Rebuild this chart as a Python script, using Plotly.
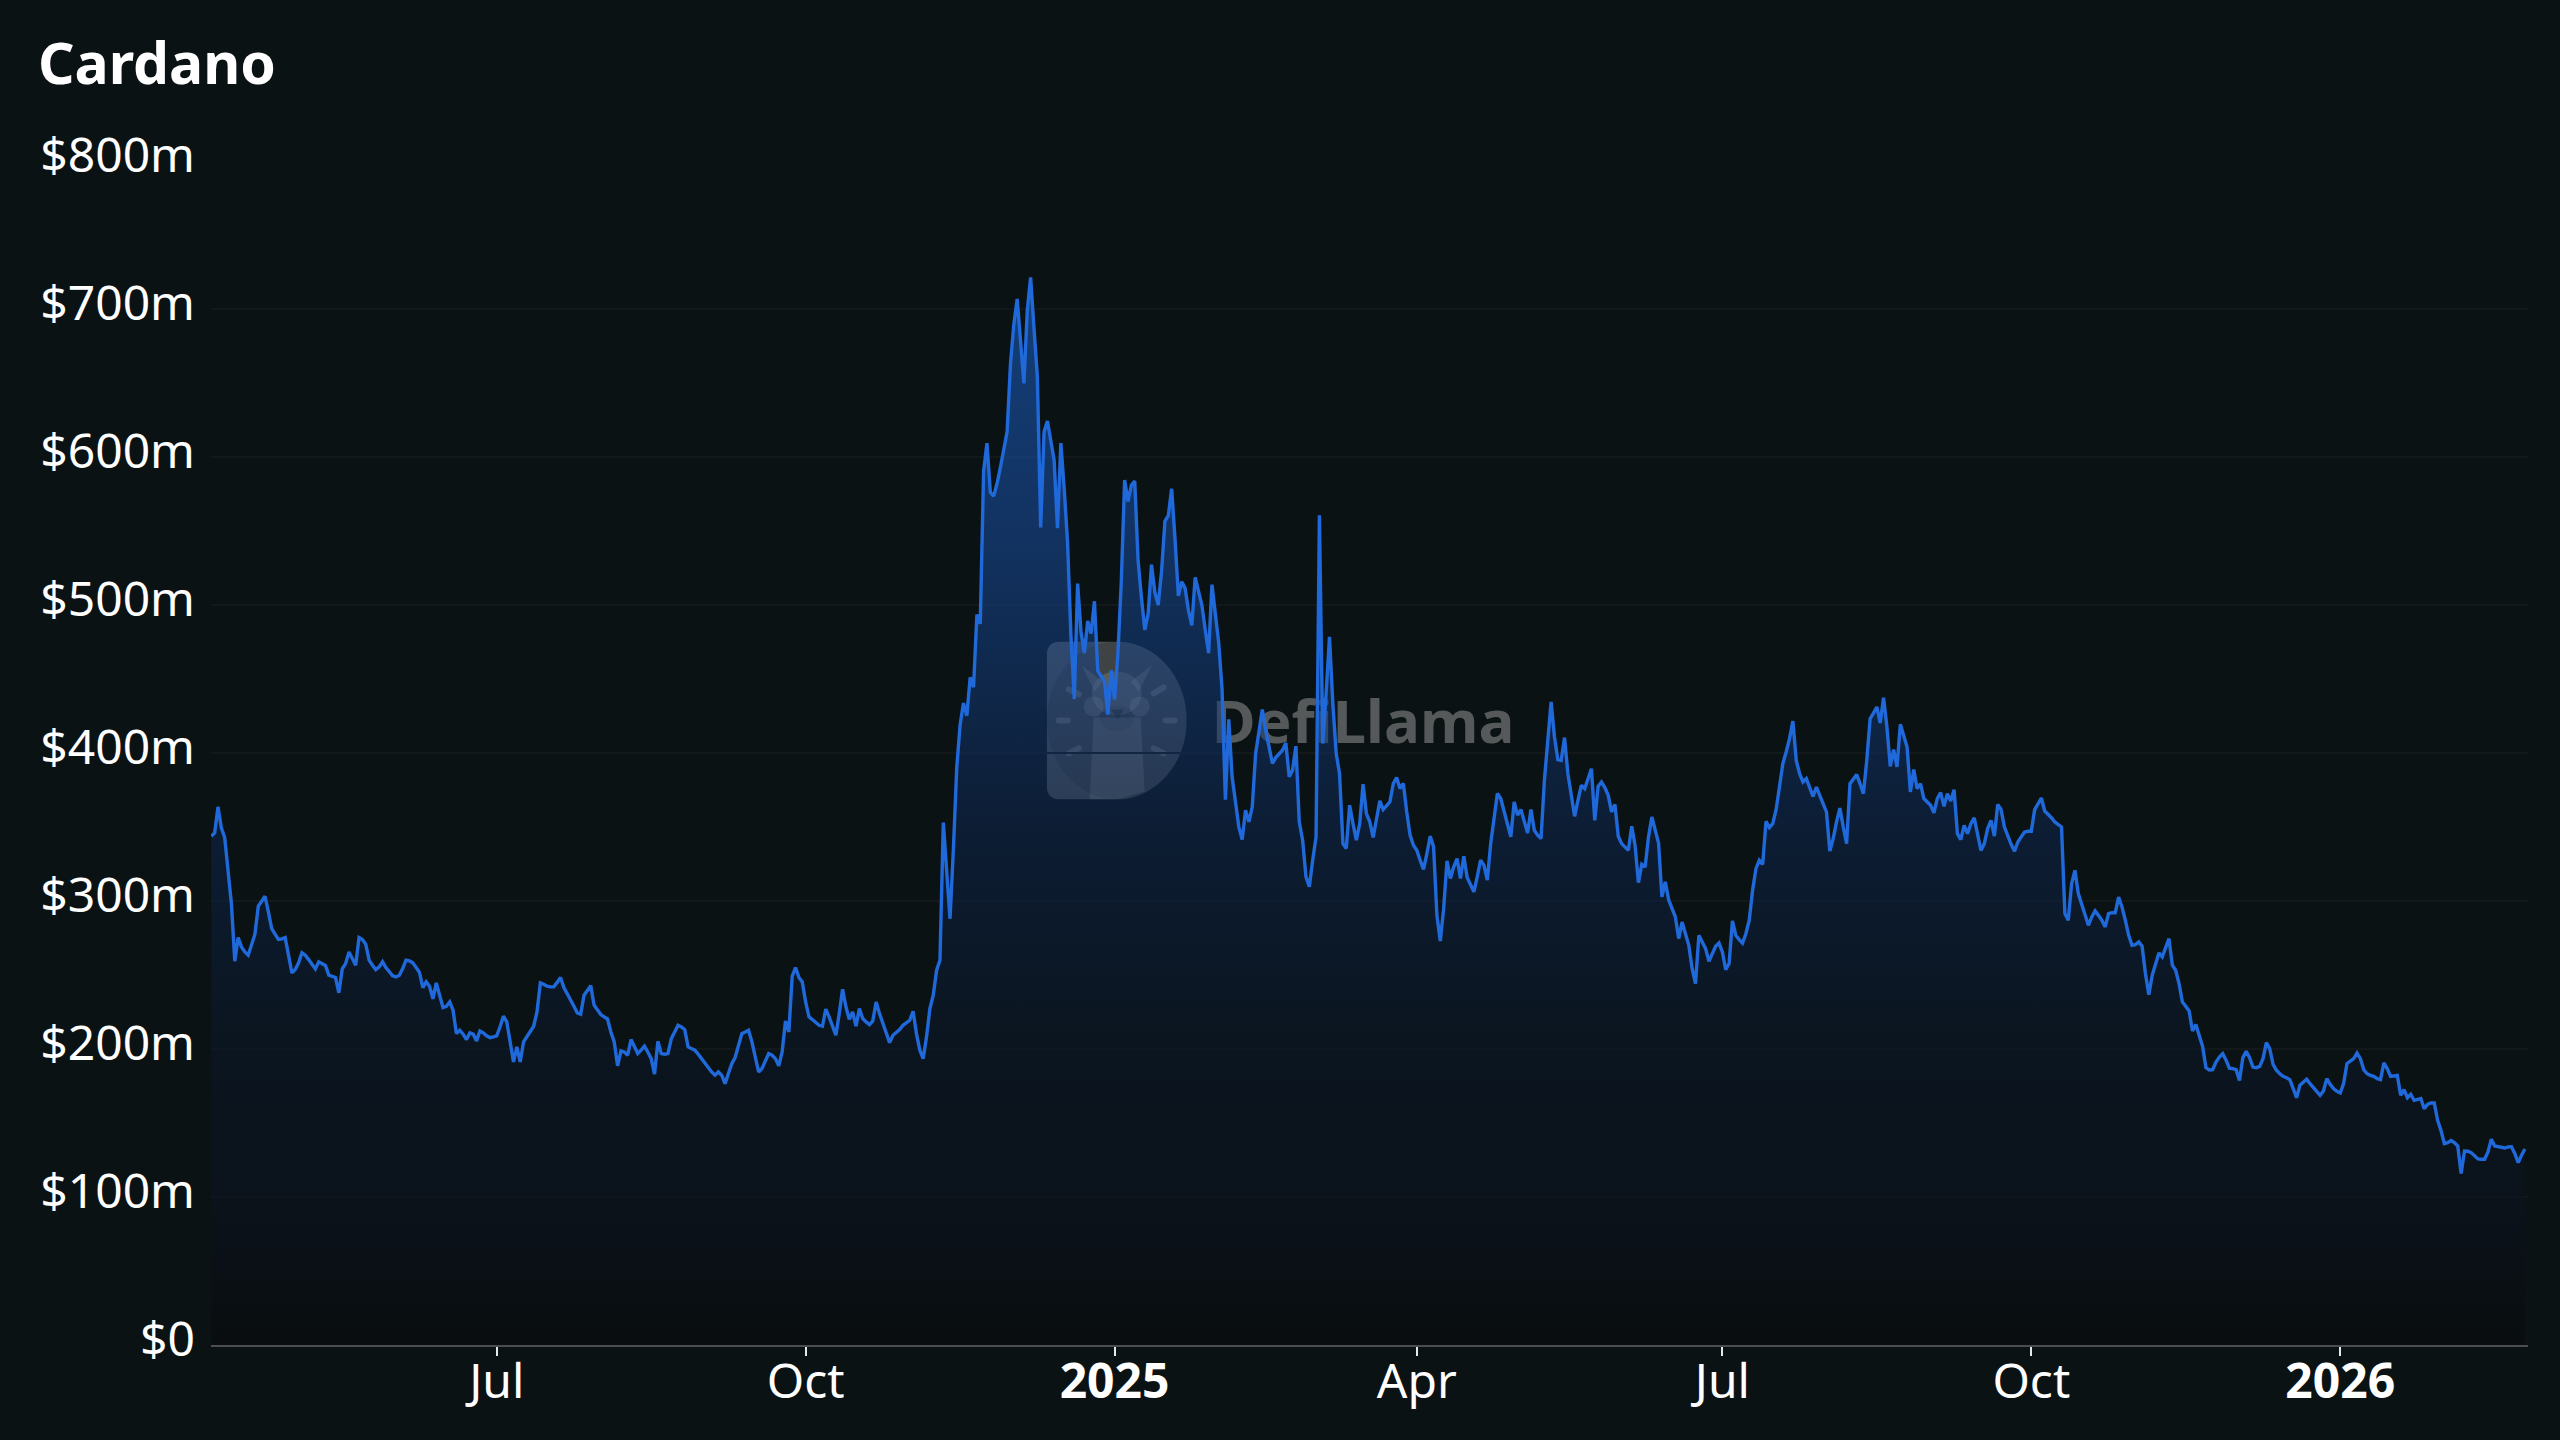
import base64
import pandas as pd
import plotly.graph_objects as go

TITLE = "Cardano"
START_DATE = "2024-04-07"

tvl_2024_spring = [343.8,346,363.6,349.4,342.9,320.8,298,259.3,275.3,269,265.6,263.4,270,277.6,296.5,300,303.2,292.6,281.4,277.6,274,274.4,275.3,263.4,251.4,253.7,258.2,265,263.4,260.4,257.3,254.1,258.9,257.7,256.4,249.9,249.2,248.3,238,254.1,257.7,265.6,261.1,256.6,275.3,274,270.8,260,256.6,253.7,255.5,258.9,255,252.1,249.4,248.7,249.9,254.4,260,259.5,258.2,255,251.7,241.5,245.4,242.4,233.9,244.7,236.4,228,228.9,231.8,226.2,210.4,212.7,210,206.4,210.9,210,205.5,212.2,210.9,208.9,207.7,208.2,208.9,215,222.2,218.3,204.8,191.3,201.4,191.3,204.8,208.6,212.2,215.4,225.1,244.7,243.8,242.4,242,242,245,248.3]
tvl_2024_summer = [241.5,237.4,234,228.9,224.4,223.5,236.3,239.7,242.8,229.6,226.2,223.3,221.7,220.3,211.5,204.8,188.6,198.7,198,195.8,206.4,201.9,196.9,199.2,201.9,198,193.5,183,205.2,196.9,196.5,196.9,207,211.5,216,214.9,213.1,201.4,200.3,199.2,196.5,193.5,190.1,186.8,184.5,182.3,184.5,182.3,176.6,183.4,190.1,194.2,201.4,210.4,211.5,212.7,204.8,194.7,184.5,186.8,191.3,196.9,195.8,193.5,188.6,198,219,211.5,249.2,255,248.3,245.3,231.8,221.7,219.9,217.6,216,215.4,226.9,221.7,215.4,209.3,223.9,240.4,228.4,220.1,225,215.4,227.3,220.6,218.3,216.5,219,231.8,223.9,217.2,212.2,204.3,209.3,210.9,213.1,216,217.6,219.4,225.5,210.4,199.2,193.5,208.2,227.3,236.3,253.2,260,353,320,288,335,390.2]
tvl_2024_peak = [419.2,433.7,425.2,451.1,444.5,493.5,487.3,590.5,609.4,576.1,573.6,582.1,593,605.5,617.1,662.9,689.5,706.8,677.4,649.7,699.1,721.3,687,654.5,552.4,617.1,624.3,609.8,597.8,551.9,609.4,578.5,542.3,479.5,436.6,514.5,482,467.5,489.2,480.7,502.5,455.4,451.8,448.2,426,455.9,436.1,467.5,515.7,584.5,570,580.9,583.8,530.2,504.9,483.2,494,527.3,508.5,500,523,556.7,560.4,578.5,544.7,506.1,515.7,511.4,496.4,486.3,518.6,509.7,500,483.2,467.5,513.8,495.2,474.7,443.3,368.5,422.8]
tvl_2025_spring = [383.9,367,350.1,341.5,361.4,353.5,363.6,399.6,413.1,429.4,415.4,404.2,392.9,396.9,399.6,401.9,406.8,383.9,388.4,404.6,353.5,341.1,316.3,309.6,327.6,343.3,560.7,406.4,440.2,478.5,433.4,399.6,386.1,338.8,335.5,364.7,352.3,341.1,352.3,378.9,359.1,353.5,342.9,356.9,367.7,361.8,364.1,367,379.4,383.4,376,379.4,360.2,344.5,337.7,334.3,327.6,321.3,332,343.8,336.6,290,273,295,327.1,315.2,323.1,328.7,315.2,330.3,315.9,310.7,306.2,316.3,327.6,324.2,314.1,338.8,354.6,372.6,369.2,360.2,351.2,343.3,367,358,361.8,354.6,346,361.8,347.8,344.5,342.2,381.6,408.6,434.5]
tvl_2025_summer = [410.8,395.5,395,410.4,386,371.4,357.2,368,378.2,375.9,382.7,389.4,354.5,377.5,380.4,376.6,371.4,360.2,365.3,343.7,338.8,336.1,334.2,350.5,337.6,312.4,324.8,323,343.3,356.8,348.9,339.2,302.7,312.9,300.9,294.8,289.2,274.6,285.8,277.9,270.1,254.3,244.2,276.8,272.3,267.8,259.3,264.4,269.4,271.6,265.6,253.6,257.7,286.5,276.8,273.9,271.6,277.9,287,307.2,321.9,327.5,324.8,353.8,349.6,352.3,361.7,377,392.8,400.7,409.7,421.6,395,386,380.4,382.7,377,370.7,377,371.4,366.9,360.2,333.8,342.1,353.4,362.8,350,338.8,379.3,382.7,385.4,379.3,372.5,395,423.2,427,431.1,420.3,437.4,417.6,391]
tvl_2025_autumn = [402.3,390.6,419.4,411.9,404,373.7,388.8,375.9,379.3,369.2,366.9,364.7,359.5,369.2,373.2,364,372.5,367.6,375.2,345.5,341.5,351.1,345.5,352.3,356.1,345.5,334.2,338.8,348.9,354.5,343.9,365.3,361.7,350,343.3,338.3,333.6,339.9,343.3,346.6,347.1,347.1,361.7,366.2,369.6,360.8,358.6,356.3,353.4,351.8,350,291.5,287,311.7,320.7,305,298.2,291.5,283.6,289.2,293.3,290.3,287,282.5,291.5,292.1,292.1,302.7,296,287,276.8,270.1,270.5,272.3,269.4,250.9,236.7,249.8,257.7,264.9,262.2,267.8,274.6,256.6,253.2,244.2,231.8,228.9,225.7,212.1,216.5,209.2,201.9,187.5,185.8]
tvl_2026_winter = [186,191.2,194.6,196.9,192.4,187,186.7,186,178.8,194.2,198.4,194.2,187.8,187.4,188.3,193.5,204.3,200.2,189.6,185.6,183.3,181.5,180.6,179.3,173.2,167.1,175.5,177.7,179.5,176.6,173.9,170.9,168.7,171.6,180,176.1,173.2,171.4,170.3,176.6,190.1,191.9,193.5,197.3,193.5,186,183.3,182.2,181.5,180,179.3,190.6,186.7,181.5,181.8,182.2,168.7,172.5,167.1,169.4,165.3,165.8,166.5,159.7,162.6,163.5,163.5,151.8,145,136.1,136.7,138.1,136.7,134.5,115.8,131.1,130.9,130,127.7,125.7,125.5,125.5,130.4,139,134.5,134.2,133.6,133.1,133.8,134,129.3,123.2,128.2,132.4]

values = (tvl_2024_spring + tvl_2024_summer + tvl_2024_peak + tvl_2025_spring
          + tvl_2025_summer + tvl_2025_autumn + tvl_2026_winter)
dates = pd.date_range(START_DATE, periods=len(values), freq="D")

x_ticks = ["2024-07-01", "2024-10-01", "2025-01-01", "2025-04-01", "2025-07-01", "2025-10-01", "2026-01-01"]
x_labels = ["Jul", "Oct", "<b>2025</b>", "Apr", "Jul", "Oct", "<b>2026</b>"]
y_ticks = [0, 100, 200, 300, 400, 500, 600, 700, 800]
y_labels = ["$0", "$100m", "$200m", "$300m", "$400m", "$500m", "$600m", "$700m", "$800m"]

W, H = 2560, 1440
L, R, T, B = 211, 2528, 161, 1345
BG = "#0b1214"
LINE = "#2069da"

logo_svg = """<svg xmlns="http://www.w3.org/2000/svg" viewBox="0 0 140 158" width="140" height="158">
<path d="M14,0 H70 A70,79 0 0 1 70,158 H14 Q0,158 0,144 V14 Q0,0 14,0 Z" fill="#ffffff" fill-opacity="0.26"/>
<ellipse cx="70" cy="79" rx="70" ry="79" fill="#000000" fill-opacity="0.14"/>
<polygon points="43,158 47,76 94,76 98,150 70,158" fill="#ffffff" fill-opacity="0.14"/>
<ellipse cx="70" cy="52" rx="25" ry="22" fill="#ffffff" fill-opacity="0.14"/>
<circle cx="47" cy="65" r="10" fill="#ffffff" fill-opacity="0.14"/>
<circle cx="93" cy="65" r="10" fill="#ffffff" fill-opacity="0.14"/>
<polygon points="35,24 56,40 48,50" fill="#ffffff" fill-opacity="0.14"/>
<polygon points="105,24 84,40 92,50" fill="#ffffff" fill-opacity="0.14"/>
<ellipse cx="70" cy="77" rx="17" ry="13" fill="#000000" fill-opacity="0.10"/>
<polygon points="64,68 77,68 71,78" fill="#000000" fill-opacity="0.30"/>
<g stroke="#ffffff" stroke-opacity="0.18" stroke-width="6" stroke-linecap="round">
<line x1="22" y1="48" x2="32" y2="53"/><line x1="12" y1="79" x2="21" y2="79"/><line x1="22" y1="112" x2="32" y2="107"/>
<line x1="107" y1="52" x2="117" y2="46"/><line x1="119" y1="79" x2="128" y2="79"/><line x1="107" y1="107" x2="117" y2="112"/>
</g></svg>"""
logo_src = "data:image/svg+xml;base64," + base64.b64encode(logo_svg.encode()).decode()

fig = go.Figure()

fig.add_trace(go.Scatter(
    x=["2025-03-16"], y=[417], mode="text", text=["DefiLlama"],
    textposition="middle center", hoverinfo="skip", showlegend=False,
    textfont=dict(family="Noto Sans", size=60, color="#55595a", weight="bold"),
))

fig.add_trace(go.Scatter(
    x=dates, y=values, mode="lines", showlegend=False,
    line=dict(color=LINE, width=3.4),
    fill="tozeroy",
    fillgradient=dict(
        type="vertical", start=0, stop=720,
        colorscale=[
            [0.0, "rgba(7,8,10,0.5)"],
            [0.139, "rgba(11,19,34,0.5)"],
            [0.278, "rgba(11,24,42,0.5)"],
            [0.472, "rgba(13,38,80,0.5)"],
            [0.764, "rgba(25,84,176,0.5)"],
            [1.0, "rgba(29,106,220,0.5)"],
        ],
    ),
))

fig.update_layout(
    width=W, height=H, paper_bgcolor=BG, plot_bgcolor=BG,
    margin=dict(l=L, r=W - R, t=T, b=H - B, pad=0),
    font=dict(family="Noto Sans", color="#ffffff", size=48),
    title=dict(text=f"<b>{TITLE}</b>", x=38 / W, xanchor="left", xref="container",
               y=1 - 64 / H, yanchor="middle", yref="container",
               font=dict(size=57, family="Noto Sans", color="#ffffff")),
    xaxis=dict(
        type="date", range=["2024-04-06 22:00", "2026-02-25 22:00"],
        tickmode="array", tickvals=x_ticks, ticktext=x_labels,
        showgrid=False, zeroline=False, showline=True, linecolor="#4b4e50", linewidth=2,
        ticks="outside", ticklen=9, tickwidth=2, tickcolor="#e8e8e8",
        tickangle=0, automargin=False, ticklabelstandoff=-16,
    ),
    yaxis=dict(
        range=[0, 800], tickmode="array", tickvals=y_ticks, ticktext=y_labels,
        showgrid=True, gridcolor="#13181a", gridwidth=2, zeroline=False, showline=False,
        ticks="", ticklabelstandoff=15, ticklabelshift=-6, automargin=False,
    ),
    images=[dict(
        source=logo_src, xref="paper", yref="paper",
        x=(1046.7 - L) / (R - L), y=(B - 641.4) / (B - T),
        sizex=140 / (R - L), sizey=158 / (B - T),
        xanchor="left", yanchor="top", sizing="stretch", layer="below", opacity=1,
    )],
)

fig.write_html(
    "out.html",
    config={"displayModeBar": False},
    post_script="document.documentElement.style.background='#0b1214';"
                "document.body.style.margin='0';document.body.style.overflow='hidden';",
)
